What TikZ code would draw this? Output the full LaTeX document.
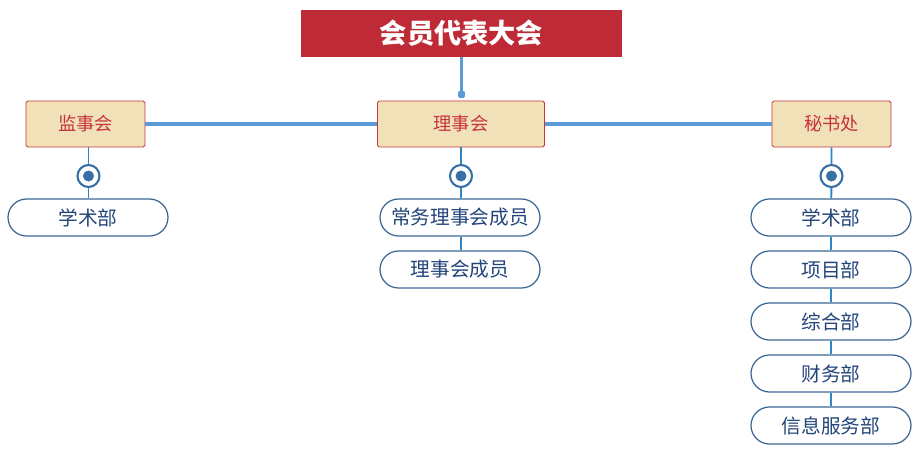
\documentclass[tikz,border=0pt]{standalone}
\usepackage{fontspec}
\setmainfont{Noto Sans CJK SC}
\usetikzlibrary{arrows.meta}
\definecolor{titlered}{HTML}{BE2B37}
\definecolor{boxfill}{HTML}{F0E1B8}
\definecolor{boxred}{HTML}{C8333A}
\definecolor{linkblue}{HTML}{5B9BD5}
\definecolor{stemblue}{HTML}{2E86C8}
\definecolor{pillblue}{HTML}{3B6796}
\definecolor{pilltext}{HTML}{23457A}
\begin{document}
\begin{tikzpicture}[line cap=butt,line join=round,x=0.02cm,y=-0.02cm,
  title/.style={fill=titlered,text=white,font=\fontsize{15.5pt}{17pt}\selectfont\bfseries,minimum width=6.42cm,minimum height=0.94cm,inner sep=0pt},
  branch/.style={draw=boxred,fill=boxfill,text=boxred,rounded corners=1pt,font=\fontsize{10.4pt}{12pt}\selectfont,minimum height=0.92cm,inner sep=0pt,line width=0.5pt},
  pill/.style={draw=pillblue,fill=white,text=pilltext,rounded corners=0.37cm,font=\fontsize{11.2pt}{13pt}\selectfont,minimum width=3.2cm,minimum height=0.74cm,inner sep=0pt,line width=0.7pt},
  knot/.style={circle,draw=pillblue!70!stemblue,fill=white,line width=1.2pt,minimum size=0.44cm,inner sep=0pt,path picture={\fill[pillblue!70!stemblue] (path picture bounding box.center) circle (0.11cm);}},
  link/.style={draw=linkblue,line width=1.9pt},
  stem/.style={draw=stemblue,line width=1.1pt}]
\useasboundingbox (0,0) rectangle (920,453);
% top
\node[title] (congress) at (461.5,33.5) {会员代表大会};
% second row
\node[branch,minimum width=2.38cm] (supervisor) at (85.5,124) {监事会};
\node[branch,minimum width=3.34cm] (council) at (461,124) {理事会};
\node[branch,minimum width=2.38cm] (secretariat) at (831.5,124) {秘书处};
\draw[link,-{Square[length=4pt,width=4.4pt,round]}] (congress.south) -- ([yshift=1.2pt]congress.south |- council.north);
\draw[link] (supervisor.east) -- (council.west);
\draw[link] (council.east) -- (secretariat.west);
% knots
\node[knot] (k1) at (88.5,176) {};
\node[knot] (k2) at (461,176) {};
\node[knot] (k3) at (831.5,176) {};
% pills
\node[pill] (sup1) at (88,217.5) {学术部};
\node[pill] (cou1) at (460,217.5) {常务理事会成员};
\node[pill] (cou2) at (460,269.5) {理事会成员};
\node[pill] (sec1) at (831,217.5) {学术部};
\node[pill] (sec2) at (831,269.5) {项目部};
\node[pill] (sec3) at (831,321.5) {综合部};
\node[pill] (sec4) at (831,373.5) {财务部};
\node[pill] (sec5) at (831,425.5) {信息服务部};
\draw[stem] (supervisor.south -| k1) -- (k1) -- (sup1.north -| k1);
\draw[stem] (council.south -| k2) -- (k2) -- (cou1.north -| k2);
\draw[stem] (cou1.south -| k2) -- (cou2.north -| k2);
\draw[stem] (secretariat.south -| k3) -- (k3) -- (sec1);
\draw[stem] (sec1) -- (sec2) -- (sec3) -- (sec4) -- (sec5);
\end{tikzpicture}
\end{document}
